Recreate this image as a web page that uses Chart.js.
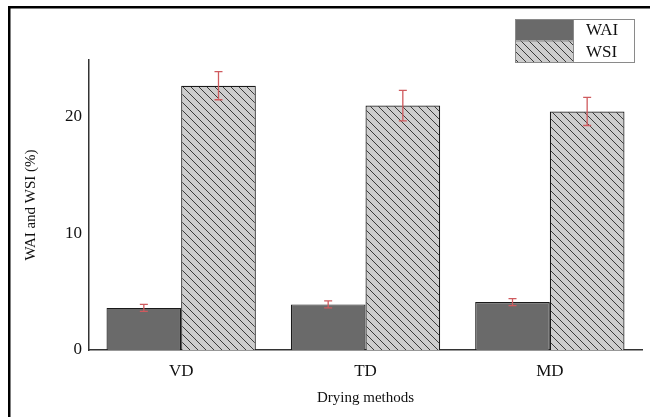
<!DOCTYPE html>
<html><head><meta charset="utf-8">
<script src="https://cdn.jsdelivr.net/npm/chart.js@4"></script>
<style>html,body{margin:0;padding:0;background:#fff}#wrap{width:650px;height:417px;position:relative}</style>
</head><body><div id="wrap"><canvas id="c" width="650" height="417"></canvas></div>
<script>
const categories = ["VD", "TD", "MD"];
const waiValues = [3.6, 3.9, 4.1];
const waiErrors = [0.3, 0.3, 0.3];
const wsiValues = [22.6, 20.9, 20.4];
const wsiErrors = [1.2, 1.3, 1.2];
const yTicks = [0, 10, 20];
const seriesNames = ["WAI", "WSI"];

function hatch(){
  const s = 8;
  const p = document.createElement('canvas'); p.width = s; p.height = s;
  const g = p.getContext('2d');
  g.fillStyle = '#cdcdcd'; g.fillRect(0,0,s,s);
  g.strokeStyle = '#3a3a3a'; g.lineWidth = 1;
  g.beginPath();
  g.moveTo(-1,-1); g.lineTo(s+1,s+1);
  g.moveTo(-1,s-1); g.lineTo(1,s+1);
  g.moveTo(s-1,-1); g.lineTo(s+1,1);
  g.stroke();
  return document.getElementById('c').getContext('2d').createPattern(p,'repeat');
}
const hatchPat = hatch();
const waiColor = '#6a6a6a';

const framePlugin = {
  id:'frame',
  beforeDraw(chart){
    const ctx = chart.ctx; ctx.save();
    ctx.fillStyle = '#fff'; ctx.fillRect(0,0,650,417);
    ctx.fillStyle = '#000';
    ctx.fillRect(8,6,642,2.5);
    ctx.fillRect(8,6,2.5,411);
    ctx.restore();
  }
};

const errPlugin = {
  id:'err',
  afterDatasetsDraw(chart){
    const ctx = chart.ctx, y = chart.scales.y;
    const errs = [waiErrors, wsiErrors];
    ctx.save();
    ctx.strokeStyle = '#cf5a5e'; ctx.lineWidth = 1.3;
    chart.data.datasets.forEach((ds,di)=>{
      chart.getDatasetMeta(di).data.forEach((bar,i)=>{
        const v = ds.data[i], e = errs[di][i];
        const x = bar.x;
        const yt = y.getPixelForValue(v+e), yb = y.getPixelForValue(v-e);
        ctx.beginPath();
        ctx.moveTo(x,yt); ctx.lineTo(x,yb);
        ctx.moveTo(x-4,yt); ctx.lineTo(x+4,yt);
        ctx.moveTo(x-4,yb); ctx.lineTo(x+4,yb);
        ctx.stroke();
      });
    });
    ctx.restore();
  }
};

const legendPlugin = {
  id:'lg',
  afterDraw(chart){
    const ctx = chart.ctx; ctx.save();
    const x0=515, y0=19, w=119, rh=21.5, sw=58;
    ctx.fillStyle = waiColor; ctx.fillRect(x0,y0,sw,rh);
    ctx.fillStyle = hatchPat; ctx.fillRect(x0,y0+rh,sw,rh);
    ctx.strokeStyle = '#8a8a8a'; ctx.lineWidth = 1;
    ctx.strokeRect(x0+0.5,y0+0.5,w,rh*2);
    ctx.beginPath(); ctx.moveTo(x0,y0+rh+0.5); ctx.lineTo(x0+sw,y0+rh+0.5);
    ctx.moveTo(x0+sw+0.5,y0); ctx.lineTo(x0+sw+0.5,y0+rh*2); ctx.stroke();
    ctx.fillStyle = '#111'; ctx.font = '17px "Liberation Serif", serif';
    ctx.textBaseline = 'middle'; ctx.textAlign = 'left';
    ctx.fillText(seriesNames[0], x0+sw+13, y0+rh/2+1);
    ctx.fillText(seriesNames[1], x0+sw+13, y0+rh*1.5+1);
    ctx.restore();
  }
};

new Chart(document.getElementById('c'), {
  type:'bar',
  data:{
    labels: categories,
    datasets:[
      {label:seriesNames[0], data:waiValues, backgroundColor:waiColor, borderColor:'#1a1a1a', borderWidth:1.2, categoryPercentage:0.81, barPercentage:1},
      {label:seriesNames[1], data:wsiValues, backgroundColor:hatchPat, borderColor:'#1a1a1a', borderWidth:1.2, categoryPercentage:0.81, barPercentage:1}
    ]
  },
  options:{
    responsive:false, animation:false,
    layout:{padding:{top:60, right:8, left:0, bottom:0}},
    plugins:{legend:{display:false}, tooltip:{enabled:false}},
    scales:{
      x:{
        grid:{display:false, drawTicks:false},
        border:{display:true, color:'#333', width:1.5},
        ticks:{color:'#111', font:{family:'"Liberation Serif", serif', size:17}, padding:11},
        title:{display:true, text:'Drying methods', color:'#111', font:{family:'"Liberation Serif", serif', size:15}, padding:{top:4, bottom:10}},
        afterFit(s){ s.height = 67; }
      },
      y:{
        min:0, max:24.8,
        afterBuildTicks(s){ s.ticks = yTicks.map(v=>({value:v})); },
        grid:{display:false, drawTicks:false},
        border:{display:true, color:'#333', width:1.5},
        ticks:{color:'#111', font:{family:'"Liberation Serif", serif', size:17}, padding:7},
        title:{display:true, text:'WAI and WSI (%)', color:'#111', font:{family:'"Liberation Serif", serif', size:15}, padding:{top:22, bottom:0}},
        afterFit(s){ s.width = 89; }
      }
    }
  },
  plugins:[framePlugin, errPlugin, legendPlugin]
});
</script></body></html>
